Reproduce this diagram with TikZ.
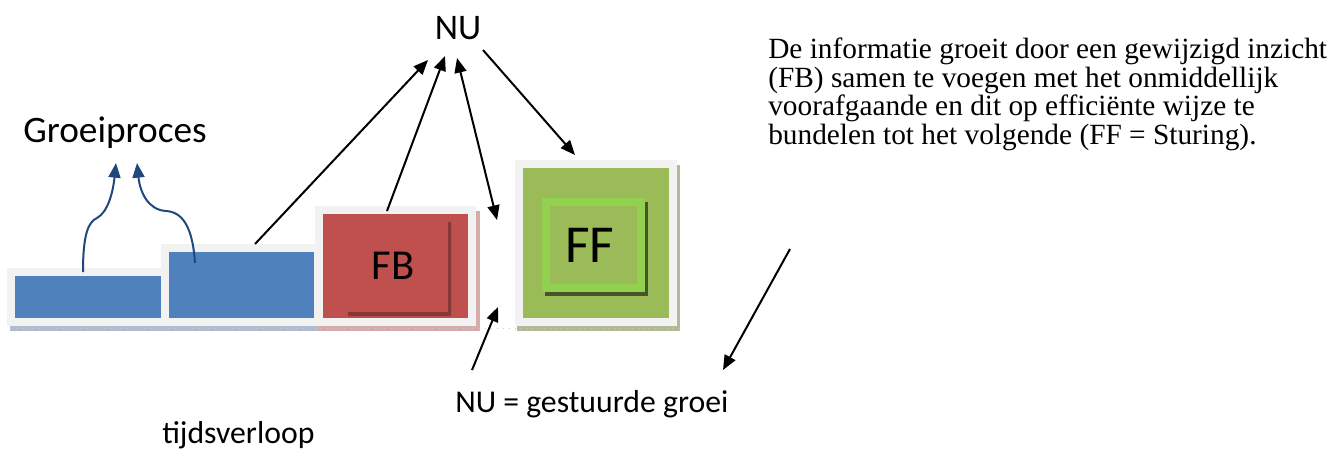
\documentclass[tikz,border=0pt]{standalone}
\usepackage{fontspec}
\setmainfont{Liberation Serif}
\newfontfamily\calfont{Carlito}
\usetikzlibrary{arrows.meta}
\definecolor{framegrey}{HTML}{F2F2F2}
\definecolor{blok}{HTML}{4F81BD}
\definecolor{rood}{HTML}{C0504D}
\definecolor{groen}{HTML}{9BBB59}
\definecolor{lichtgroen}{HTML}{92D050}
\definecolor{pijlblauw}{HTML}{1F497D}
\begin{document}
\begin{tikzpicture}[x=0.75pt,y=-0.75pt,
    blok/.style={draw=framegrey,line width=6pt,inner sep=0pt},
    pijl/.style={line width=1.5pt,-{Triangle[length=11pt,width=9pt]}},
    groei/.style={draw=pijlblauw,line width=1.5pt,-{Triangle[length=11pt,width=9pt]}},
    lbl/.style={font=\calfont,inner sep=0pt}]
  \useasboundingbox (0,0) rectangle (1335,450);
  % schaduwstroken
  \fill[color={rgb,255:red,176;green,188;blue,205}] (10,326) rectangle (318,331);
  \fill[color={rgb,255:red,214;green,172;blue,171}] (318,326) rectangle (480,331);
  \fill[color={rgb,255:red,214;green,172;blue,171}] (476,211) rectangle (480,331);
  \fill[color={rgb,255:red,176;green,186;blue,150}] (517,326) rectangle (680,331);
  \fill[color={rgb,255:red,176;green,186;blue,150}] (677,165) rectangle (680,331);
  \draw[white!60!gray,dash pattern=on 0.4pt off 4pt] (10,328.5) -- (680,328.5);
  % blokken
  \node[blok,fill=blok,minimum width=115.5pt,minimum height=37.5pt] (b1) at (88,297) {};
  \node[blok,fill=blok,minimum width=114.75pt,minimum height=55.5pt] (b2) at (241.5,285) {};
  \node[blok,fill=rood,minimum width=114.75pt,minimum height=84pt] (fb) at (395.5,266) {};
  \fill[rood!70!black] (448,222) rectangle (451,316) (348,312) rectangle (451,316);
  \node[lbl,font=\calfont\fontsize{32}{36}\selectfont] at (393,266) {FB};
  \node[blok,fill=groen,minimum width=115.5pt,minimum height=118.5pt] (ffbox) at (596,243) {};
  \fill[groen!45!black] (545,202) rectangle (648,296);
  \node[draw=lichtgroen,fill=groen,line width=6pt,minimum width=71.25pt,minimum height=64.5pt,inner sep=0pt] (ff) at (593.5,245) {};
  \node[lbl,font=\calfont\fontsize{40}{44}\selectfont] at (590,245) {FF};
  % teksten
  \node[lbl,font=\calfont\fontsize{27}{30}\selectfont] (nu) at (458,28) {NU};
  \node[lbl,anchor=base west,font=\calfont\fontsize{28}{32}\selectfont] (groeiproces) at (23,142) {Groeiproces};
  \node[lbl,anchor=base west,font=\calfont\fontsize{23.8}{26}\selectfont] (sturing) at (455,412) {NU = gestuurde groei};
  \node[lbl,anchor=base west,font=\calfont\fontsize{23.8}{26}\selectfont] (tijd) at (162,443) {tijdsverloop};
  \node[anchor=north west,inner sep=0pt,align=left,font=\fontsize{22}{21.3}\selectfont] (uitleg) at (768,38)
    {De informatie groeit door een gewijzigd inzicht\\(FB) samen te voegen met het onmiddellijk\\voorafgaande en dit op efficiënte wijze te\\bundelen tot het volgende (FF = Sturing).};
  % pijlen
  \coordinate (p1) at (255,244);
  \coordinate (p2) at (387,211);
  \coordinate (p3) at (497,220);
  \coordinate (p4) at (575,155);
  \coordinate (p5) at (472,370);
  \coordinate (p6) at (498,307);
  \coordinate (p7) at (790,249);
  \coordinate (p8) at (723,370);
  \coordinate (n1) at (428,60);
  \coordinate (n2) at (445,56);
  \coordinate (n3) at (457,58);
  \coordinate (n4) at (483,50);
  \draw[pijl] (p1) -- (n1);
  \draw[pijl] (p2) -- (n2);
  \draw[pijl,{Triangle[length=11pt,width=9pt]}-{Triangle[length=11pt,width=9pt]}] (n3) -- (p3);
  \draw[pijl] (n4) -- (p4);
  \draw[pijl] (p5) -- (p6);
  \draw[pijl] (p7) -- (p8);
  % groeipijlen
  \coordinate (g1) at (83,272);
  \coordinate (g2) at (116,163);
  \coordinate (g3) at (195,263);
  \coordinate (g4) at (137,163);
  \draw[groei] (g1) .. controls (83,235) and (88,222) .. (97,218) .. controls (108,212) and (113,192) .. (g2);
  \draw[groei] (g3) .. controls (193,232) and (185,212) .. (166,211) .. controls (148,210) and (140,192) .. (g4);
\end{tikzpicture}
\end{document}
